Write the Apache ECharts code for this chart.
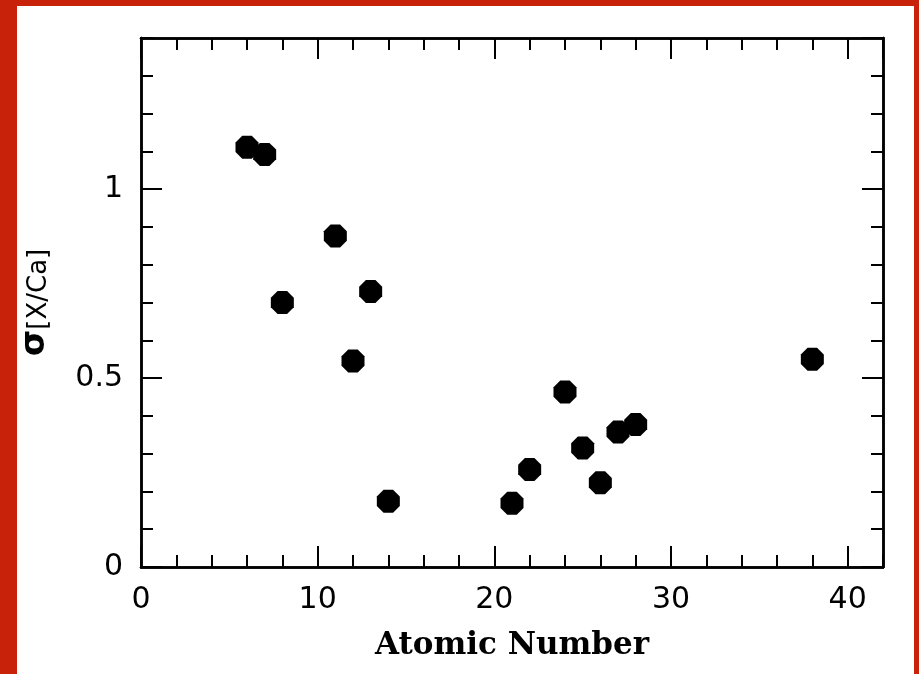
<!DOCTYPE html>
<html>
<head>
<meta charset="utf-8">
<script src="https://cdn.jsdelivr.net/npm/echarts@6/dist/echarts.min.js"></script>
<style>
html,body{margin:0;padding:0;width:919px;height:674px;background:#c8230a;overflow:hidden;}
#chart{position:absolute;left:17px;top:6px;width:897px;height:668px;background:#fff;}
</style>
</head>
<body>
<div id="chart"></div>
<script>
// Data
var atomicNumber = [6, 7, 8, 11, 12, 13, 14, 21, 22, 24, 25, 26, 27, 28, 38];
var sigmaXCa = [1.111, 1.092, 0.700, 0.876, 0.545, 0.729, 0.174, 0.169, 0.258, 0.463, 0.315, 0.223, 0.357, 0.377, 0.550];
var xTitle = 'Atomic Number';
var yTitleMain = 'σ';
var yTitleSub = '[X/Ca]';

var points = atomicNumber.map(function (x, i) { return [x, sigmaXCa[i]]; });

var chart = echarts.init(document.getElementById('chart'));
var lineStyle = { color: '#000', width: 2.5 };
var labelFont = { color: '#000', fontFamily: 'DejaVu Sans', fontSize: 30 };
function xAx(pos, interval, len, withLabel, withName) {
  return {
    type: 'value', position: pos, min: 0, max: 42, interval: interval,
    axisLine: { show: true, onZero: false, lineStyle: lineStyle },
    axisTick: { show: true, inside: true, length: len, lineStyle: { color: '#000', width: 2 } },
    axisLabel: withLabel ? Object.assign({ show: true, margin: 18, showMaxLabel: false }, labelFont) : { show: false },
    splitLine: { show: false },
    name: withName ? xTitle : '',
    nameLocation: 'middle', nameGap: 63,
    nameTextStyle: { color: '#000', fontFamily: 'DejaVu Serif', fontWeight: 'bold', fontSize: 31 }
  };
}
function yAx(pos, interval, len, withLabel, withName) {
  return {
    type: 'value', position: pos, min: 0, max: 1.4, interval: interval,
    axisLine: { show: true, onZero: false, lineStyle: lineStyle },
    axisTick: { show: true, inside: true, length: len, lineStyle: { color: '#000', width: 2 } },
    axisLabel: withLabel ? Object.assign({ show: true, margin: 18, showMaxLabel: false }, labelFont) : { show: false },
    splitLine: { show: false },
    name: withName ? '{s|' + yTitleMain + '}{sub|' + yTitleSub + '}' : '',
    nameLocation: 'middle', nameRotate: 90, nameGap: 89,
    nameTextStyle: {
      rich: {
        s: { fontFamily: 'DejaVu Sans', fontSize: 34, color: '#000', fontWeight: 'bold' },
        sub: { fontFamily: 'DejaVu Sans', fontSize: 26, color: '#000', padding: [8, 0, 0, 0] }
      }
    }
  };
}

chart.setOption({
  animation: false,
  grid: { left: 124, right: 31, top: 32, bottom: 107, containLabel: false, outerBoundsMode: 'none' },
  xAxis: [
    xAx('bottom', 10, 21, true, true),
    xAx('bottom', 2, 12, false, false),
    xAx('top', 10, 21, false, false),
    xAx('top', 2, 12, false, false)
  ],
  yAxis: [
    yAx('left', 0.5, 21, true, true),
    yAx('left', 0.1, 12, false, false),
    yAx('right', 0.5, 21, false, false),
    yAx('right', 0.1, 12, false, false)
  ],
  series: [{
    type: 'scatter',
    xAxisIndex: 0, yAxisIndex: 0,
    data: points,
    symbol: 'path://M29.3,0 L70.7,0 L100,29.3 L100,70.7 L70.7,100 L29.3,100 L0,70.7 L0,29.3 Z',
    symbolSize: 23,
    itemStyle: { color: '#000', opacity: 1, borderWidth: 0 }
  }]
});
</script>
</body>
</html>
